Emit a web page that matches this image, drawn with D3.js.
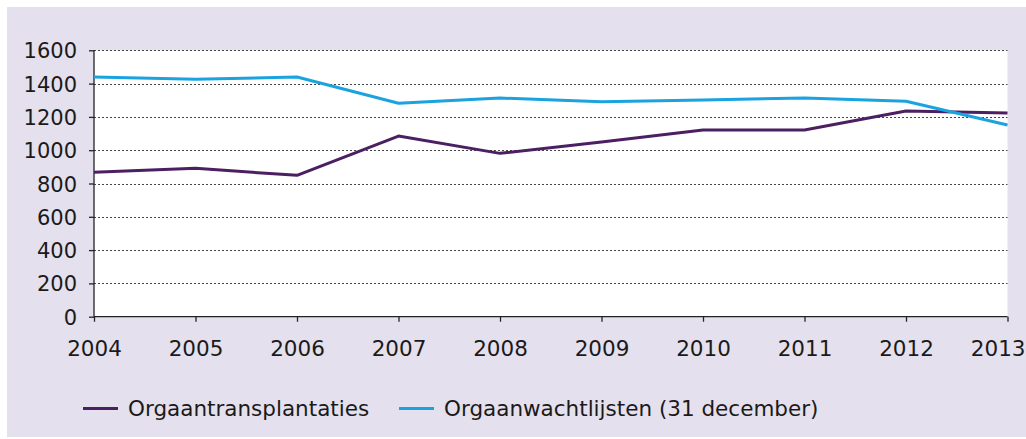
<!DOCTYPE html>
<html>
<head>
<meta charset="utf-8">
<script src="https://cdn.jsdelivr.net/npm/d3@7"></script>
<style>
  html, body { margin: 0; padding: 0; background: #ffffff; }
  svg { display: block; }
  text { font-family: "DejaVu Sans", sans-serif; fill: #1a1a1a; }
</style>
</head>
<body>
<svg id="chart" width="1026" height="439"></svg>
<script>
// Organ transplants vs. people on waiting lists, 2004–2013
const years = [2004, 2005, 2006, 2007, 2008, 2009, 2010, 2011, 2012, 2013];
const transplantaties = [867, 891, 849, 1085, 981, 1049, 1121, 1121, 1235, 1223];
const wachtlijsten = [1440, 1426, 1440, 1282, 1313, 1291, 1302, 1313, 1294, 1151];
const yTicks = [0, 200, 400, 600, 800, 1000, 1200, 1400, 1600];
const seriesNames = ["Orgaantransplantaties", "Orgaanwachtlijsten (31 december)"];
const seriesColors = ["#4b1f62", "#1ba3df"];

const svg = d3.select("#chart");
const W = 1026, H = 439;
const plot = { left: 94, right: 1007.5, top: 50.3, bottom: 316.7 };

// lavender panel
svg.append("rect").attr("x", 7).attr("y", 7).attr("width", W - 7).attr("height", 430)
  .attr("fill", "#e5e0ed");

const x = d3.scaleLinear().domain([2004, 2013]).range([plot.left, plot.right]);
const y = d3.scaleLinear().domain([0, 1600]).range([plot.bottom, plot.top]);

// white plotting area
svg.append("rect").attr("x", plot.left).attr("y", plot.top)
  .attr("width", plot.right - plot.left).attr("height", plot.bottom - plot.top)
  .attr("fill", "#ffffff");

// dotted gridlines
svg.append("g").selectAll("line").data(yTicks.filter(d => d > 0)).join("line")
  .attr("x1", plot.left).attr("x2", plot.right)
  .attr("y1", d => Math.round(y(d)) + 0.5).attr("y2", d => Math.round(y(d)) + 0.5)
  .attr("stroke", "#444").attr("stroke-width", 1.2).attr("stroke-dasharray", "2,2");

// y axis
const yAxis = d3.axisLeft(y).tickValues(yTicks).tickFormat(d3.format("d"))
  .tickSize(5).tickPadding(12);
const gy = svg.append("g").attr("transform", `translate(${plot.left},0)`).call(yAxis);
gy.select(".domain").attr("stroke", "#222").attr("stroke-width", 1.3)
  .attr("d", `M0,${plot.top}V${plot.bottom}`);
gy.selectAll(".tick line").attr("stroke", "#222").attr("stroke-width", 1.3);
gy.selectAll(".tick text").style("font-family", "DejaVu Sans, sans-serif")
  .style("font-size", "21px").attr("fill", "#1a1a1a").attr("dy", "0.36em");

// x axis
const xAxis = d3.axisBottom(x).tickValues(years).tickFormat(d3.format("d"))
  .tickSize(5).tickPadding(19);
const gx = svg.append("g").attr("transform", `translate(0,${plot.bottom})`).call(xAxis);
gx.select(".domain").attr("stroke", "#222").attr("stroke-width", 1.3)
  .attr("d", `M${plot.left},0H${plot.right}`);
gx.selectAll(".tick line").attr("stroke", "#222").attr("stroke-width", 1.3);
gx.selectAll(".tick text").style("font-family", "DejaVu Sans, sans-serif")
  .style("font-size", "21.5px").attr("fill", "#1a1a1a");
// keep the last year label inside the panel
gx.selectAll(".tick text").filter(d => d === years[years.length - 1])
  .attr("text-anchor", "end").attr("x", W - 1 - plot.right);

// series lines
const line = d3.line().x((d, i) => x(years[i])).y(d => y(d));
[transplantaties, wachtlijsten].forEach((vals, k) => {
  svg.append("path").datum(vals).attr("d", line)
    .attr("fill", "none").attr("stroke", seriesColors[k]).attr("stroke-width", 3)
    .attr("stroke-linejoin", "round");
});

// legend
const legendY = 408.5;
const legendX = [83, 399];
seriesNames.forEach((name, k) => {
  const g = svg.append("g").attr("transform", `translate(${legendX[k]},${legendY})`);
  g.append("line").attr("x1", 0).attr("x2", 35).attr("y1", 0).attr("y2", 0)
    .attr("stroke", seriesColors[k]).attr("stroke-width", 3);
  g.append("text").attr("x", 45).attr("y", 0).attr("dy", "0.33em")
    .style("font-size", "21.5px").text(name);
});
</script>
</body>
</html>
